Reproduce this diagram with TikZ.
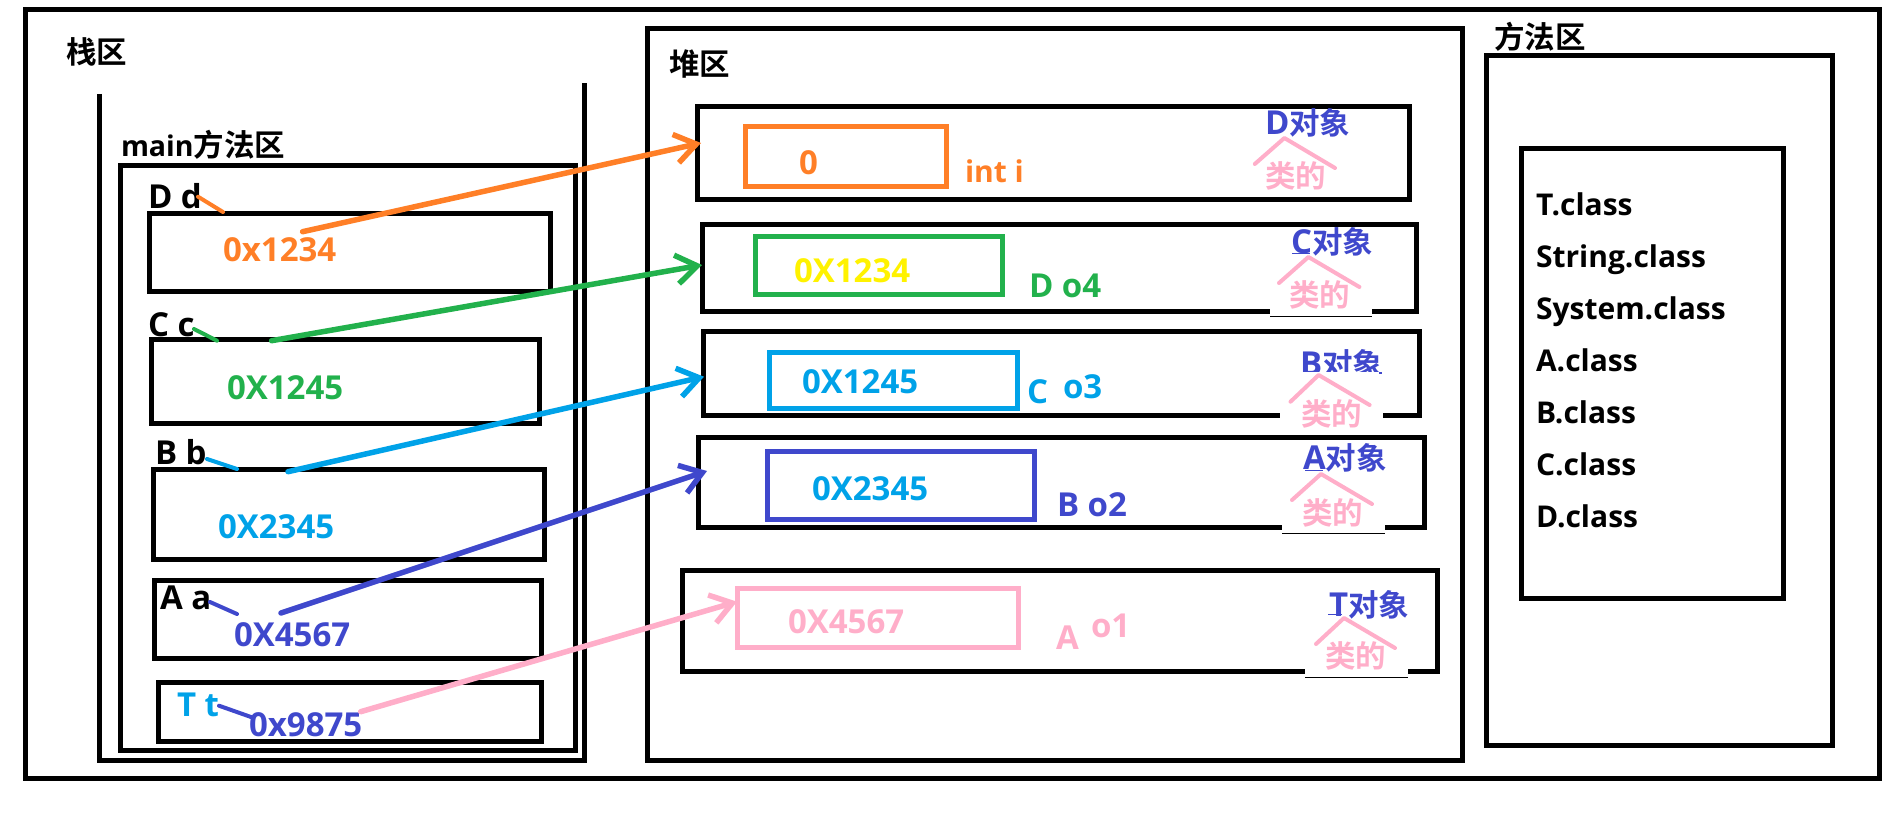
\documentclass[tikz,border=0pt]{standalone}
\usepackage{fontspec}
\setmainfont{Open Sans}
\newfontfamily\cjk{Noto Sans CJK SC}[BoldFont={Noto Sans CJK SC Bold}]
\usetikzlibrary{arrows.meta,fit}
\definecolor{orangec}{HTML}{FF7F27}
\definecolor{greenc}{HTML}{22B14C}
\definecolor{skyc}{HTML}{00A2E8}
\definecolor{indigoc}{HTML}{3F48CC}
\definecolor{pinkc}{HTML}{FFAEC9}
\definecolor{yellowc}{HTML}{FFF200}
\newcommand{\latinpart}[1]{{\fontspec{Open Sans}\bfseries\fontsize{33}{33}\selectfont #1}}
\tikzset{
box/.style={draw,line width=5pt,inner sep=0pt,outer sep=0pt},
patch/.style={fill=white,inner sep=0pt,outer sep=0pt},
txt/.style={anchor=base west,inner sep=0pt,outer sep=0pt,font=\bfseries\fontsize{30}{30}\selectfont},
val/.style={txt,font=\bfseries\fontsize{33}{33}\selectfont},
zh/.style={txt,font=\cjk\bfseries\fontsize{30.5}{31}\selectfont},
ref/.style={line width=5.5pt,-{Straight Barb[length=21pt,width=29pt]},line cap=round},
stub/.style={line width=4pt,line cap=round},
roof/.style={draw=pinkc,line width=4pt,line cap=round,line join=round},
seam/.style={line width=1pt}
}
\begin{document}
\begin{tikzpicture}[x=1pt,y=-1pt]
\useasboundingbox (0,0) rectangle (1903,824);

\node[box,fit={(25,9.5) (1879,778)}] (outer) {};
\draw[line width=5pt,miter limit=10] (99.5,94) |- (584.6,760.7) -- (584.6,83);
\node[box,fit={(120.6,165) (575.5,750)}] (mainarea) {};
\node[box,fit={(647.7,28.3) (1462.7,760.3)}] (heap) {};
\node[box,fit={(1486.3,56) (1832.7,745)}] (method) {};
\node[box,fit={(1521.3,148.7) (1783.7,598.5)}] (classes) {};

\node[zh] (stacktitle) at (66,64) {栈区};
\node[txt] (maintitle) at (121,157) {{\fontsize{28.5}{30}\selectfont main}{\cjk\fontsize{30.5}{31}\selectfont 方法区}};
\node[zh] (heaptitle) at (669,76) {堆区};
\node[zh] (methodtitle) at (1494,49) {方法区};

% stack side
\node[box,fit={(149.7,213) (550.6,291.7)}] (dbox) {};
\node[box,fit={(151.3,339) (539.4,423)}] (cbox) {};
\node[box,fit={(153.4,469) (544.4,559)}] (bbox) {};
\node[box,fit={(154.6,580) (541,658)}] (abox) {};
\node[box,fit={(158.4,682) (541,741.7)}] (tbox) {};

\node[val] (dname) at (148,208) {D d};
\node[val] (cname) at (148,336) {C c};
\node[val] (bname) at (155,464) {B b};
\node[val] (aname) at (160,609) {A a};
\node[val,text=skyc] (tname) at (177,716) {T t};

\node[val,text=orangec] (dval) at (223,261.5) {0x1234};
\node[val,text=greenc] (cval) at (227,399.5) {0X1245};
\node[val,text=skyc] (bval) at (218,538.5) {0X2345};
\node[val,text=indigoc] (aval) at (234,646.5) {0X4567};
\node[val,text=indigoc] (tval) at (249,736.5) {0x9875};

% heap side
\node[box,fit={(697.7,107) (1409.4,199)}] (dobj) {};
\node[box,fit={(702,224) (1416.5,311.7)}] (cobj) {};
\node[box,fit={(703.3,331) (1419,415)}] (bobj) {};
\node[box,fit={(698.7,437.3) (1424,527)}] (aobj) {};
\node[box,fit={(682.3,570) (1437,671)}] (tobj) {};

\node[box,draw=orangec,fit={(745.6,127) (946.6,186)}] (dcell) {};
\node[box,draw=greenc,fit={(755.3,236) (1002,294)}] (ccell) {};
\node[box,draw=skyc,fit={(769.6,352) (1017.5,408)}] (bcell) {};
\node[box,draw=indigoc,fit={(767.6,451) (1034.4,519)}] (acell) {};
\node[box,draw=pinkc,fit={(737,588) (1018.6,647.7)}] (tcell) {};

\node[val,text=orangec] (dnum) at (799,174.5) {0};
\node[val,text=yellowc] (cnum) at (794,282.5) {0X1234};
\node[val,text=skyc] (bnum) at (802,393.5) {0X1245};
\node[val,text=skyc] (anum) at (812,500.5) {0X2345};
\node[val,text=pinkc] (tnum) at (788,633.5) {0X4567};

\node[txt,text=orangec] (dfield) at (965,182.5) {int i};
\node[val,text=greenc] (cfield) at (1029,297) {D o4};
\node[val,text=skyc] (bfieldtype) at (1027,403.5) {C};
\node[val,text=skyc] (bfield) at (1063,398.5) {o3};
\node[val,text=indigoc] (afield) at (1057,516.5) {B o2};
\node[val,text=pinkc] (tfieldtype) at (1056,649.5) {A};
\node[val,text=pinkc] (tfield) at (1091,637) {o1};

\node[zh,text=indigoc] (dobjname) at (1265,135) {\latinpart{D}对象};
\node[zh,text=indigoc] (cobjname) at (1291,253) {\latinpart{C}对象};
\node[zh,text=indigoc] (bobjname) at (1300,375) {\latinpart{B}对象};
\node[zh,text=indigoc] (aobjname) at (1303,469) {\latinpart{A}对象};
\node[zh,text=indigoc] (tobjname) at (1329,616) {\latinpart{T}对象};

% pasted bits
\node[patch,fit={(1270,300) (1372,316)}] (cpatch) {};
\node[patch,fit={(1280,372) (1383,434)}] (bpatch) {};
\node[patch,fit={(1282,510) (1385,533)}] (apatch) {};
\node[patch,fit={(1305,655) (1408,677)}] (tpatch) {};
\draw[seam] (cpatch.south west) -- (cpatch.south east);
\draw[seam] (apatch.south west) -- (apatch.south east);
\draw[seam] (tpatch.south west) -- (tpatch.south east);
\draw[seam,draw=indigoc] (1292,253) -- (1310,253);
\draw[seam,draw=indigoc] (1305,470.7) -- (1323,470.7);
\draw[seam,draw=indigoc] (1328,614) -- (1342,614);
\fill[indigoc] (1379,372) rectangle (1382,374);

\draw[roof] (1254.8,164) -- (1284.4,138) -- (1335,168);
\draw[roof] (1279,283) -- (1308.4,257) -- (1359.4,287);
\draw[roof] (1290.5,401.7) -- (1318.6,375) -- (1369.6,405);
\draw[roof] (1292,500) -- (1321,474) -- (1372,504);
\draw[roof] (1316,644) -- (1344,618) -- (1395,648);

\node[zh,text=pinkc] (dkind) at (1265,187) {类的};
\node[zh,text=pinkc] (ckind) at (1289,306) {类的};
\node[zh,text=pinkc] (bkind) at (1301,425) {类的};
\node[zh,text=pinkc] (akind) at (1302,524) {类的};
\node[zh,text=pinkc] (tkind) at (1325,667) {类的};

% class list
\node[txt] (tclass) at (1536,215.4) {T.class};
\node[txt] (stringclass) at (1536,267.4) {String.class};
\node[txt] (systemclass) at (1536,319.4) {System.class};
\node[txt] (aclass) at (1536,371.5) {A.class};
\node[txt] (bclass) at (1536,423.5) {B.class};
\node[txt] (cclass) at (1536,475.5) {C.class};
\node[txt] (dclass) at (1536,527.5) {D.class};

% references
\coordinate (dfrom) at (302.6,231.7);
\coordinate (dto) at (701,143);
\coordinate (cfrom) at (271.6,340.7);
\coordinate (cto) at (702,265);
\coordinate (bfrom) at (288,471.7);
\coordinate (bto) at (704,376.7);
\coordinate (afrom) at (281,613);
\coordinate (ato) at (707,471);
\coordinate (tfrom) at (360.7,711.7);
\coordinate (tto) at (737,601.7);

\draw[ref,orangec] (dfrom)--(dto);
\draw[ref,greenc] (cfrom)--(cto);
\draw[ref,skyc] (bfrom)--(bto);
\draw[ref,indigoc] (afrom)--(ato);
\draw[ref,pinkc] (tfrom)--(tto);

\coordinate (dtick) at (198,196.7);
\coordinate (ctick) at (194,329);
\coordinate (btick) at (207,459);
\coordinate (atick) at (210,602);
\coordinate (ttick) at (219,705.7);
\coordinate (dtack) at (223,212);
\coordinate (ctack) at (217,340.7);
\coordinate (btack) at (237,469);
\coordinate (atack) at (237,614);
\coordinate (ttack) at (251,717);

\draw[stub,orangec] (dtick)--(dtack);
\draw[stub,greenc] (ctick)--(ctack);
\draw[stub,skyc] (btick)--(btack);
\draw[stub,indigoc] (atick)--(atack);
\draw[stub,indigoc] (ttick)--(ttack);
\end{tikzpicture}
\end{document}
